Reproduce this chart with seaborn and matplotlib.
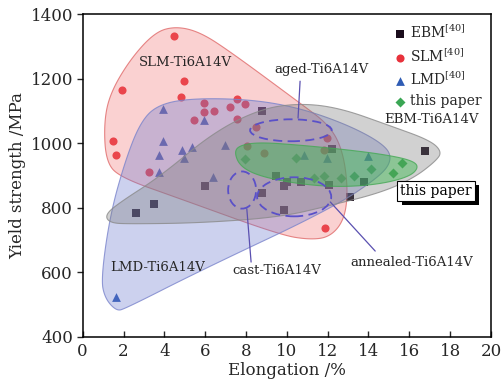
import numpy as np
import pandas as pd
import matplotlib
matplotlib.use("Agg")
import matplotlib.pyplot as plt
import matplotlib.patheffects as pe
import seaborn as sns
from matplotlib.patches import Polygon, Ellipse

sns.set_theme(style="ticks")
plt.rcParams['font.family'] = ['DejaVu Serif']
plt.rcParams['mathtext.fontset'] = 'dejavuserif'

# ---- measured data: elongation (%) and yield strength (MPa) ----
ebm_elong = [2.63, 3.51, 5.98, 8.76, 8.76, 9.49, 9.88, 9.88, 10.0, 10.69, 12.09, 12.2, 13.1, 13.8, 16.78]
ebm_ys = [783, 813, 869, 845, 1099, 900, 792, 869, 880, 880, 871, 982, 832, 881, 976]

slm_elong = [1.5, 1.63, 1.94, 3.24, 4.46, 4.83, 4.95, 5.46, 5.95, 5.96, 6.45, 7.24, 7.55, 7.56,
             7.97, 8.06, 8.5, 8.89, 11.8, 11.89, 11.98]
slm_ys = [1008, 962, 1166, 910, 1333, 1143, 1194, 1072, 1096, 1126, 1100, 1111, 1076, 1137,
          1121, 990, 1049, 969, 980, 738, 1016]

lmd_elong = [1.62, 3.72, 3.74, 3.92, 3.94, 4.87, 4.97, 5.36, 5.96, 6.37, 6.96, 10.86, 11.98, 14.0]
lmd_ys = [525, 962, 910, 1106, 1008, 978, 953, 988, 1072, 895, 993, 962, 953, 960]

paper_elong = [7.97, 10.47, 11.35, 11.8, 12.65, 13.3, 14.12, 15.2, 15.62]
paper_ys = [952, 955, 893, 897, 893, 897, 920, 909, 940]

series_labels = ["EBM$^{[40]}$", "SLM$^{[40]}$", "LMD$^{[40]}$", "this paper"]

# ---- outlines of the process windows (elongation, yield strength) ----
slm_zone = [(4.57, 1362), (5.75, 1344), (7.22, 1284), (10.65, 1124), (12.12, 1054), (12.76, 973),
            (13.0, 852), (12.81, 762), (12.12, 710), (11.14, 701), (9.67, 716), (4.77, 828),
            (1.83, 894), (1.14, 943), (1.04, 1063), (1.34, 1154), (2.32, 1259), (3.54, 1344)]
lmd_zone = [(1.64, 481), (1.09, 520), (0.90, 580), (1.34, 777), (2.07, 943), (2.81, 1063),
            (3.64, 1118), (5.26, 1139), (8.2, 1136), (10.65, 1109), (13.1, 1054), (14.82, 994),
            (15.16, 949), (14.57, 897), (12.12, 795), (5.75, 605), (2.07, 487)]
ebm_zone = [(1.09, 777), (1.73, 813), (3.79, 897), (6.39, 1033), (8.69, 1106), (10.65, 1124),
            (12.61, 1109), (15.06, 1054), (17.02, 1009), (17.61, 973), (17.27, 943), (16.19, 891),
            (14.57, 846), (12.12, 807), (9.67, 771), (5.75, 753), (2.32, 750), (1.34, 753)]
paper_zone = [(7.42, 973), (7.71, 994), (8.69, 1003), (10.65, 994), (12.61, 982), (14.57, 967),
              (16.04, 949), (16.49, 928), (16.04, 897), (14.57, 873), (12.61, 864), (10.65, 873),
              (8.69, 897), (7.71, 928)]

# heat-treatment states: centre, width, height
aged_state = (10.2, 1040, 4.0, 68)
cast_state = (7.81, 855, 1.37, 115)
annealed_state = (10.36, 834, 3.63, 121)


def smooth_closed(pts, n=4):
    """Chaikin corner cutting on a closed outline."""
    p = np.asarray(pts, float)
    for _ in range(n):
        nxt = np.roll(p, -1, axis=0)
        q = 0.75 * p + 0.25 * nxt
        r = 0.25 * p + 0.75 * nxt
        p = np.empty((2 * len(q), 2))
        p[0::2] = q
        p[1::2] = r
    return p


df = pd.DataFrame({
    "elong": ebm_elong + slm_elong + lmd_elong + paper_elong,
    "ys": ebm_ys + slm_ys + lmd_ys + paper_ys,
    "src": ([series_labels[0]] * len(ebm_elong) + [series_labels[1]] * len(slm_elong)
            + [series_labels[2]] * len(lmd_elong) + [series_labels[3]] * len(paper_elong)),
})

fig = plt.figure(figsize=(5.02, 3.85), dpi=100)
ax = fig.add_axes([0.1647, 0.1247, 0.8133, 0.8389])

palette = {series_labels[0]: "#1a0d1c", series_labels[1]: "#e8323c",
           series_labels[2]: "#2f5cb4", series_labels[3]: "#3aa654"}
markers = {series_labels[0]: "s", series_labels[1]: "o",
           series_labels[2]: "^", series_labels[3]: "D"}
sizes = {series_labels[0]: 26, series_labels[1]: 34, series_labels[2]: 40, series_labels[3]: 26}

for lab in series_labels:
    sub = df[df.src == lab]
    sns.scatterplot(data=sub, x="elong", y="ys", color=palette[lab], marker=markers[lab],
                    s=sizes[lab], linewidth=0, ax=ax, zorder=2, label=lab)

zones = [
    (slm_zone, "#f07070", "#e06a6a", 0.32),
    (lmd_zone, "#6a78d0", "#7a84cc", 0.34),
    (ebm_zone, "#7a7a7a", "#8a8a8a", 0.34),
    (paper_zone, "#38b84c", "#45a855", 0.45),
]
for pts, fc, ec, a in zones:
    sm = smooth_closed(pts)
    ax.add_patch(Polygon(sm, closed=True, facecolor=fc, edgecolor="none", alpha=a, zorder=3))
    ax.add_patch(Polygon(sm, closed=True, facecolor="none", edgecolor=ec, lw=0.8, alpha=0.8, zorder=3))

dash_c = "#5a50c8"
for cx, cy, w, h in (aged_state, cast_state, annealed_state):
    ax.add_patch(Ellipse((cx, cy), w, h, fill=False, edgecolor=dash_c, lw=1.3,
                         linestyle=(0, (5, 3)), zorder=4))

lbl_fs = 9.5
ax.text(5.01, 1250, "SLM-Ti6A14V", ha="center", va="center", fontsize=lbl_fs, zorder=6)
ax.text(17.07, 1073, "EBM-Ti6A14V", ha="center", va="center", fontsize=lbl_fs, zorder=6)
ax.text(3.67, 616, "LMD-Ti6A14V", ha="center", va="center", fontsize=lbl_fs, zorder=6)
ax.text(11.68, 1229, "aged-Ti6A14V", ha="center", va="center", fontsize=lbl_fs, zorder=6)
ax.text(9.49, 605, "cast-Ti6A14V", ha="center", va="center", fontsize=lbl_fs, zorder=6)
ax.text(16.13, 631, "annealed-Ti6A14V", ha="center", va="center", fontsize=lbl_fs, zorder=6)

lead_c = "#5a50b0"
ax.plot([10.65, 10.55], [1192, 1078], color=lead_c, lw=0.9, zorder=5)
ax.plot([8.25, 8.04], [632, 797], color=lead_c, lw=0.9, zorder=5)
ax.plot([14.33, 12.13], [666, 818], color=lead_c, lw=0.9, zorder=5)

# boxed tag with a hard drop shadow
tag = ax.text(17.32, 852, "this paper", ha="center", va="center", fontsize=10,
              color="black", zorder=7,
              bbox=dict(boxstyle="square,pad=0.22", fc="white", ec="black", lw=0.8))
tag.get_bbox_patch().set_path_effects([
    pe.SimplePatchShadow(offset=(3, -3), shadow_rgbFace="black", alpha=1.0),
    pe.Normal(),
])

ax.set_xlim(0, 20)
ax.set_ylim(400, 1400)
ax.set_xticks(range(0, 21, 2))
ax.set_yticks(range(400, 1401, 200))
ax.tick_params(axis="x", direction="in", length=4, width=1, labelsize=12, pad=4)
ax.tick_params(axis="y", direction="out", length=4, width=1, labelsize=12, pad=3)
for sp in ax.spines.values():
    sp.set_visible(True)
    sp.set_linewidth(1.1)
    sp.set_color("black")
ax.set_xlabel("Elongation /%", fontsize=12, labelpad=2)
ax.set_ylabel("Yield strength /MPa", fontsize=12, labelpad=3)

leg = ax.legend(loc="upper right", frameon=False, fontsize=10, handletextpad=0.2,
                handlelength=1.0, labelspacing=0.45, borderaxespad=0.3)
for h in leg.legend_handles:
    h.set_alpha(1)

fig.savefig("out.png", dpi=100)
